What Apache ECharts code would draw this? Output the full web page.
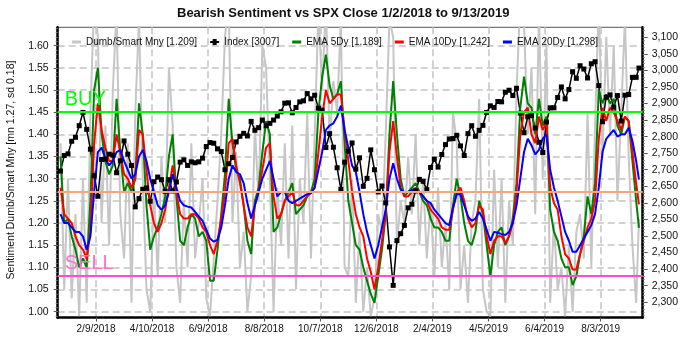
<!DOCTYPE html>
<html>
<head>
<meta charset="utf-8">
<script src="https://cdn.jsdelivr.net/npm/echarts@6/dist/echarts.min.js"></script>
<style>
  html, body { margin: 0; padding: 0; background: #ffffff; }
  #chart { width: 700px; height: 338px; }
</style>
</head>
<body>
<div id="chart"></div>
<script>
// Sampling: one point every 4 calendar days from 1/2/2018, last point on 9/13/2019
const FIRST_DATE = [2018, 1, 2];
const STEP_DAYS = 4;
const LAST_DATE = [2019, 9, 13];

// Dumb money / smart money sentiment ratio
const dumbSmart = [
  1.38,1.05,1.30,1.03,1.22,0.99,1.30,1.02,1.45,1.70,
  1.62,1.20,1.42,1.15,1.50,1.68,1.22,1.12,1.38,1.02,
  1.45,1.66,1.30,1.05,1.00,1.28,1.08,1.35,1.20,1.55,
  1.42,1.10,1.02,1.25,1.10,1.38,1.12,1.20,1.30,1.03,
  0.99,1.12,1.25,1.40,1.62,1.70,1.20,1.36,1.10,1.18,
  1.00,1.08,1.42,1.25,1.60,1.55,1.30,1.00,1.28,1.15,
  1.38,1.12,1.42,1.05,1.30,1.20,1.45,1.12,1.40,1.68,
  1.50,1.70,1.38,1.52,1.45,1.66,1.10,1.08,1.30,1.02,
  1.18,1.00,1.10,0.99,1.03,1.22,1.18,1.40,1.66,1.62,
  1.15,1.25,1.20,1.35,1.22,1.40,1.15,1.30,1.12,1.25,
  1.08,1.28,1.10,1.20,1.05,1.45,1.38,1.05,1.15,1.02,
  1.20,1.25,1.48,1.05,1.00,0.99,1.32,1.10,1.30,1.02,
  1.25,1.15,1.50,1.70,1.65,1.40,1.55,1.22,1.68,1.30,
  1.60,1.02,1.20,1.05,1.10,0.99,1.15,1.00,1.18,1.22,
  1.12,1.45,1.10,1.42,1.70,1.35,1.62,1.40,1.60,1.25,
  1.45,1.66,1.35,1.15,1.02,1.209
];

// S&P 500 close
const spxClose = [
  2696,2743,2748,2786,2798,2833,2873,2822,2762,2682,
  2620,2731,2732,2747,2744,2691,2727,2787,2747,2713,
  2588,2613,2641,2645,2605,2664,2678,2670,2635,2670,
  2636,2663,2723,2730,2713,2724,2721,2724,2735,2770,
  2782,2780,2763,2755,2700,2718,2737,2784,2801,2810,
  2802,2846,2819,2827,2850,2833,2840,2850,2862,2875,
  2901,2902,2872,2888,2905,2908,2930,2914,2925,2886,
  2880,2767,2809,2768,2706,2641,2723,2756,2781,2702,
  2736,2650,2674,2760,2700,2633,2651,2600,2467,2351,
  2486,2507,2532,2585,2596,2636,2671,2665,2640,2707,
  2732,2708,2746,2776,2793,2794,2804,2772,2743,2809,
  2833,2801,2819,2834,2873,2893,2888,2906,2905,2934,
  2940,2924,2946,2871,2812,2860,2864,2826,2783,2752,
  2844,2887,2887,2918,2950,2914,2942,2996,2976,3014,
  3004,2977,3020,3026,2954,2845,2919,2926,2889,2924,
  2847,2925,2927,2979,2979,3007
];

const ema5 = [
  1.35,1.20,1.21,1.17,1.14,1.10,1.12,1.10,1.25,1.50,
  1.55,1.40,1.34,1.31,1.33,1.48,1.36,1.27,1.29,1.27,
  1.30,1.47,1.40,1.24,1.14,1.17,1.19,1.22,1.26,1.35,
  1.40,1.26,1.16,1.15,1.19,1.22,1.21,1.17,1.18,1.16,
  1.07,1.07,1.14,1.22,1.31,1.48,1.38,1.32,1.30,1.24,
  1.16,1.13,1.25,1.28,1.36,1.43,1.40,1.18,1.19,1.22,
  1.25,1.27,1.29,1.22,1.23,1.24,1.26,1.27,1.30,1.45,
  1.53,1.58,1.51,1.48,1.49,1.52,1.38,1.25,1.20,1.15,
  1.14,1.10,1.07,1.04,1.02,1.08,1.14,1.22,1.40,1.52,
  1.40,1.30,1.26,1.27,1.28,1.29,1.27,1.25,1.24,1.21,
  1.19,1.19,1.18,1.16,1.16,1.24,1.30,1.26,1.20,1.16,
  1.15,1.18,1.25,1.22,1.15,1.08,1.15,1.18,1.19,1.15,
  1.17,1.21,1.29,1.46,1.53,1.47,1.46,1.40,1.48,1.42,
  1.44,1.23,1.18,1.16,1.12,1.10,1.10,1.06,1.08,1.13,
  1.17,1.26,1.22,1.29,1.50,1.47,1.49,1.47,1.48,1.42,
  1.40,1.44,1.43,1.34,1.25,1.189
];

const ema10 = [
  1.28,1.22,1.21,1.20,1.17,1.15,1.14,1.12,1.18,1.38,
  1.47,1.41,1.37,1.34,1.34,1.40,1.36,1.31,1.30,1.28,
  1.30,1.41,1.40,1.32,1.24,1.20,1.18,1.20,1.23,1.28,
  1.33,1.27,1.22,1.21,1.21,1.22,1.22,1.21,1.19,1.18,
  1.15,1.13,1.16,1.21,1.27,1.38,1.39,1.33,1.29,1.24,
  1.19,1.17,1.24,1.27,1.32,1.37,1.38,1.26,1.21,1.22,
  1.25,1.26,1.27,1.24,1.24,1.25,1.26,1.27,1.28,1.36,
  1.44,1.50,1.47,1.48,1.49,1.49,1.41,1.34,1.27,1.22,
  1.19,1.17,1.12,1.09,1.05,1.10,1.16,1.22,1.36,1.43,
  1.35,1.28,1.26,1.26,1.27,1.28,1.27,1.26,1.25,1.23,
  1.22,1.21,1.19,1.185,1.185,1.23,1.27,1.28,1.25,1.21,
  1.19,1.20,1.24,1.23,1.17,1.13,1.16,1.17,1.17,1.155,
  1.17,1.20,1.27,1.40,1.45,1.46,1.40,1.38,1.44,1.41,
  1.425,1.28,1.245,1.23,1.17,1.13,1.12,1.095,1.095,1.13,
  1.16,1.19,1.21,1.25,1.39,1.46,1.43,1.46,1.45,1.43,
  1.41,1.44,1.43,1.36,1.29,1.242
];

const ema20 = [
  1.22,1.20,1.20,1.19,1.18,1.18,1.17,1.14,1.17,1.27,
  1.36,1.37,1.345,1.33,1.34,1.36,1.365,1.34,1.32,1.30,
  1.31,1.35,1.365,1.34,1.30,1.27,1.24,1.23,1.24,1.27,
  1.31,1.28,1.25,1.24,1.237,1.235,1.225,1.215,1.205,1.185,
  1.165,1.158,1.162,1.19,1.24,1.30,1.33,1.315,1.31,1.29,
  1.245,1.21,1.24,1.27,1.30,1.32,1.34,1.30,1.26,1.27,
  1.27,1.25,1.245,1.25,1.255,1.26,1.265,1.267,1.28,1.32,
  1.36,1.41,1.42,1.425,1.44,1.465,1.41,1.37,1.33,1.315,
  1.27,1.22,1.18,1.15,1.12,1.15,1.19,1.23,1.30,1.335,
  1.30,1.275,1.27,1.27,1.275,1.275,1.27,1.26,1.25,1.245,
  1.23,1.22,1.21,1.20,1.195,1.235,1.265,1.265,1.24,1.215,
  1.205,1.21,1.225,1.21,1.185,1.16,1.18,1.178,1.175,1.173,
  1.18,1.20,1.24,1.30,1.36,1.39,1.375,1.355,1.365,1.39,
  1.40,1.32,1.28,1.25,1.215,1.18,1.16,1.135,1.135,1.15,
  1.165,1.18,1.195,1.22,1.28,1.36,1.39,1.40,1.41,1.395,
  1.40,1.40,1.415,1.385,1.34,1.298
];

// Axis ticks
const xTickDates = ['2018-02-09','2018-04-10','2018-06-09','2018-08-08','2018-10-07',
                    '2018-12-06','2019-02-04','2019-04-05','2019-06-04','2019-08-03'];
const leftTicks = [1.00,1.05,1.10,1.15,1.20,1.25,1.30,1.35,1.40,1.45,1.50,1.55,1.60];
const rightTicks = [2300,2350,2400,2450,2500,2550,2600,2650,2700,2750,2800,2850,2900,2950,3000,3050,3100];

// Signal levels: mean and one standard deviation of the ratio
const SENT_MEAN = 1.267;
const SENT_SD = 0.183;

const FONT = '"Liberation Sans", Arial, sans-serif';

const toTime = (y, m, d) => Date.UTC(y, m - 1, d);
const parseDay = s => { const p = s.split('-').map(Number); return toTime(p[0], p[1], p[2]); };
const fmtDay = v => { const d = new Date(v); return (d.getUTCMonth() + 1) + '/' + d.getUTCDate() + '/' + d.getUTCFullYear(); };

const n = dumbSmart.length;
const dates = dumbSmart.map((_, i) => i === n - 1
  ? toTime(LAST_DATE[0], LAST_DATE[1], LAST_DATE[2])
  : toTime(FIRST_DATE[0], FIRST_DATE[1], FIRST_DATE[2] + i * STEP_DAYS));
const pair = arr => arr.map((v, i) => [dates[i], v]);
const last = arr => arr[arr.length - 1];

const names = {
  raw: 'Dumb/Smart Mny [' + last(dumbSmart).toFixed(3) + ']',
  idx: 'Index [' + last(spxClose) + ']',
  e5: 'EMA 5Dy [' + last(ema5).toFixed(3) + ']',
  e10: 'EMA 10Dy [' + last(ema10).toFixed(3) + ']',
  e20: 'EMA 20Dy [' + last(ema20).toFixed(3) + ']'
};

const LEFT_MIN = 0.9869, LEFT_MAX = 1.6415;
const RIGHT_MIN = 2254, RIGHT_MAX = 3130;

const leftMinor = [];
for (let k = 99; k <= 164; k++) leftMinor.push(k / 100);
const rightMinor = [];
for (let k = 2260; k <= 3130; k += 10) rightMinor.push(k);

const gridDash = { color: '#c4c4c4', width: 1.5, type: [7, 4] };

// Legend swatches: short bar for the ratio lines, bar with a square for the index
const BAR_ICON = 'path://M0,3H9V6H0Z';
const INDEX_ICON = 'path://M0,3.5H2.5V1.5H6.5V3.5H9V5.5H6.5V7.5H2.5V5.5H0Z';

const chart = echarts.init(document.getElementById('chart'), null, { renderer: 'canvas' });
chart.setOption({
  animation: false,
  backgroundColor: '#ffffff',
  textStyle: { fontFamily: FONT },
  title: {
    text: 'Bearish Sentiment vs SPX Close 1/2/2018 to 9/13/2019',
    left: 177, top: 7, padding: 0,
    textStyle: { fontFamily: FONT, fontSize: 13, fontWeight: 'bold', color: '#111' }
  },
  legend: {
    left: 72, top: 37, padding: 0,
    itemWidth: 9, itemHeight: 9, itemGap: 13,
    textStyle: { fontFamily: FONT, fontSize: 10, color: '#111' },
    data: [
      { name: names.raw, icon: BAR_ICON },
      { name: names.idx, icon: INDEX_ICON },
      { name: names.e5, icon: BAR_ICON },
      { name: names.e10, icon: BAR_ICON },
      { name: names.e20, icon: BAR_ICON }
    ]
  },
  graphic: [{
    type: 'text', x: 11, y: 170, rotation: Math.PI / 2,
    style: {
      text: 'Sentiment Dumb/Smart Mny [mn 1.27, sd 0.18]',
      fontFamily: FONT, fontSize: 10.5, fill: '#111',
      align: 'center', verticalAlign: 'middle'
    }
  }],
  grid: {
    left: 57.7, right: 57.3, top: 27.3, bottom: 20.5,
    show: true, borderColor: '#555', borderWidth: 1, backgroundColor: 'transparent',
    outerBoundsMode: 'none', containLabel: false
  },
  xAxis: {
    type: 'value',
    min: toTime(2017, 12, 30), max: toTime(2019, 9, 17),
    axisLine: { show: true, onZero: false, lineStyle: { color: '#000', width: 2.5 } },
    axisTick: { show: true, length: 4, lineStyle: { color: '#555' }, customValues: xTickDates.map(parseDay) },
    axisLabel: {
      fontFamily: FONT, fontSize: 10, color: '#111', margin: 7,
      customValues: xTickDates.map(parseDay),
      formatter: fmtDay
    },
    splitLine: { show: true, lineStyle: gridDash }
  },
  yAxis: [
    {
      type: 'value', position: 'left', min: LEFT_MIN, max: LEFT_MAX,
      axisLine: { show: true, onZero: false, lineStyle: { color: '#000', width: 2.5 } },
      axisTick: { show: true, length: 4, lineStyle: { color: '#555' }, customValues: leftTicks },
      axisLabel: { fontFamily: FONT, fontSize: 10.5, color: '#111', margin: 9, customValues: leftTicks, formatter: v => v.toFixed(2) },
      splitLine: { show: true, lineStyle: gridDash }
    },
    {
      type: 'value', position: 'right', min: RIGHT_MIN, max: RIGHT_MAX,
      axisLine: { show: true, onZero: false, lineStyle: { color: '#000', width: 2.5 } },
      axisTick: { show: true, length: 5, lineStyle: { color: '#555' }, customValues: rightTicks },
      axisLabel: { fontFamily: FONT, fontSize: 10.5, color: '#111', margin: 9, customValues: rightTicks, formatter: v => v.toLocaleString('en-US') },
      splitLine: { show: false }
    },
    {
      type: 'value', position: 'left', min: LEFT_MIN, max: LEFT_MAX,
      axisLine: { show: false },
      axisTick: { show: true, length: 2, lineStyle: { color: '#777' }, customValues: leftMinor },
      axisLabel: { show: false }, splitLine: { show: false }
    },
    {
      type: 'value', position: 'right', min: RIGHT_MIN, max: RIGHT_MAX,
      axisLine: { show: false },
      axisTick: { show: true, length: 2, lineStyle: { color: '#777' }, customValues: rightMinor },
      axisLabel: { show: false }, splitLine: { show: false }
    }
  ],
  series: [
    {
      name: names.raw, type: 'line', yAxisIndex: 0, data: pair(dumbSmart),
      symbol: 'none', lineStyle: { color: '#c6c6c6', width: 2 }, itemStyle: { color: '#c6c6c6' }
    },
    {
      name: names.idx, type: 'line', yAxisIndex: 1, data: pair(spxClose),
      symbol: 'rect', symbolSize: 5, showSymbol: true,
      lineStyle: { color: '#000', width: 1.5 }, itemStyle: { color: '#000' }
    },
    {
      name: names.e5, type: 'line', yAxisIndex: 0, data: pair(ema5),
      symbol: 'none', lineStyle: { color: '#008000', width: 2 }, itemStyle: { color: '#008000' }
    },
    {
      name: names.e10, type: 'line', yAxisIndex: 0, data: pair(ema10),
      symbol: 'none', lineStyle: { color: '#ff0000', width: 2 }, itemStyle: { color: '#ff0000' }
    },
    {
      name: names.e20, type: 'line', yAxisIndex: 0, data: pair(ema20),
      symbol: 'none', lineStyle: { color: '#0000ff', width: 2 }, itemStyle: { color: '#0000ff' },
      markLine: {
        silent: true, symbol: ['none', 'none'],
        lineStyle: { type: 'solid', width: 2 },
        data: [
          { yAxis: SENT_MEAN + SENT_SD, lineStyle: { color: '#00ff00' },
            label: { show: true, formatter: 'BUY', position: 'insideStartTop', distance: [7, 3],
                     color: '#00ff00', fontFamily: FONT, fontSize: 20 } },
          { yAxis: SENT_MEAN, lineStyle: { color: '#f8a47f' }, label: { show: false } },
          { yAxis: SENT_MEAN - SENT_SD, lineStyle: { color: '#ff4fc6' },
            label: { show: true, formatter: 'SELL', position: 'insideStartTop', distance: [7, 3],
                     color: '#ff6fd0', fontFamily: FONT, fontSize: 20 } }
        ]
      }
    }
  ]
});
</script>
</body>
</html>
